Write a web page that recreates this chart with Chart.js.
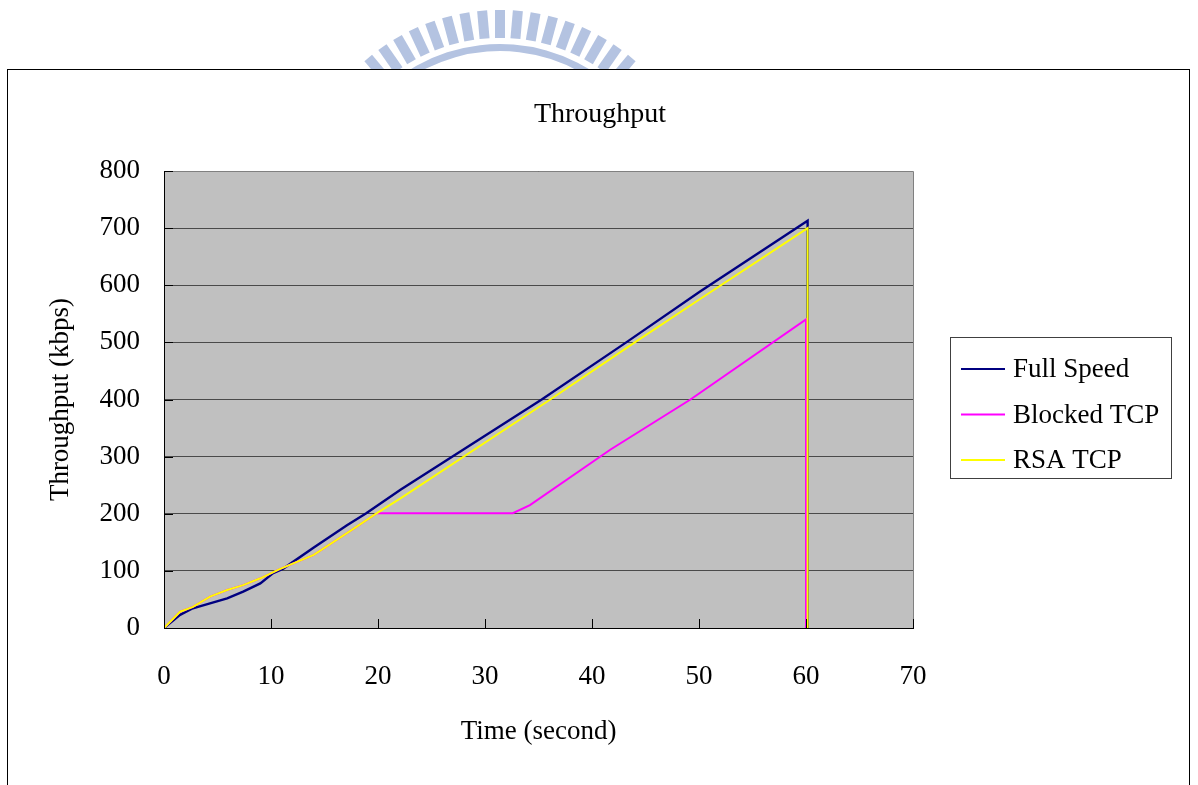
<!DOCTYPE html>
<html><head><meta charset="utf-8">
<script src="https://cdn.jsdelivr.net/npm/chart.js@4.4.1/dist/chart.umd.min.js"></script>
<style>html,body{margin:0;padding:0;background:#fff;overflow:hidden}#wrap{width:1198px;height:785px;position:relative}</style>
</head><body><div id="wrap"><canvas id="c" width="1198" height="785"></canvas></div>
<script>
const chartTitle = 'Throughput';
const xTitle = 'Time (second)';
const yTitle = 'Throughput (kbps)';
const seriesNames = ['Full Speed', 'Blocked TCP', 'RSA TCP'];
const seriesColors = ['#000080', '#ff00ff', '#ffff00'];
const xTicks = [0, 10, 20, 30, 40, 50, 60, 70];
const yTicks = [0, 100, 200, 300, 400, 500, 600, 700, 800];

const fullSpeedTime  = [0, 1.5, 2.7, 4.3, 5.9, 7.4, 9.0, 10.2, 11.15, 14.0, 17.1, 18.9, 22.1, 35.3, 43.2, 50.1, 60.15, 60.15];
const fullSpeedValue = [0, 23, 34.5, 43, 52, 63.6, 78, 96, 104, 141, 180, 201, 242, 400, 500, 589, 713, 0];

const blockedTime  = [0, 1.5, 2.7, 4.3, 5.9, 7.4, 9.0, 10.8, 14.0, 17.1, 19.9, 32.6, 34.2, 41.7, 49.2, 60.0, 60.0];
const blockedValue = [0, 28.5, 37, 55, 66.5, 75, 87, 103, 128, 166, 201, 201, 215, 312, 400, 540, 0];

const rsaTime  = [0, 1.5, 2.7, 4.3, 5.9, 7.4, 9.0, 10.8, 14.0, 17.1, 19.9, 22.1, 36.1, 44.0, 50.1, 60.15, 60.15];
const rsaValue = [0, 28.5, 37, 55, 66.5, 75, 87, 103, 128, 166, 201, 227, 400, 500, 576, 700, 0];

const FONT = "'Liberation Serif', 'DejaVu Serif', serif";
const FS = 27;

function pts(t, v) { return t.map((x, i) => ({ x: x, y: v[i] })); }

const decor = {
  id: 'decor',
  beforeDraw(chart) {
    const ctx = chart.ctx;
    ctx.save();
    ctx.fillStyle = '#fff';
    ctx.fillRect(0, 0, chart.width, chart.height);
    // watermark
    ctx.fillStyle = '#b4c3e1';
    const cx = 500, cy = 215;
    for (let i = -8; i <= 8; i++) {
      const a = i * 5.0 * Math.PI / 180;
      ctx.save(); ctx.translate(cx, cy); ctx.rotate(a);
      ctx.fillRect(-5, -205, 10, 28);
      ctx.restore();
    }
    ctx.beginPath();
    ctx.arc(cx, cy, 171, Math.PI * 1.15, Math.PI * 1.85);
    ctx.arc(cx, cy, 164, Math.PI * 1.85, Math.PI * 1.15, true);
    ctx.closePath(); ctx.fill();
    // frame
    ctx.fillStyle = '#fff';
    ctx.fillRect(7, 69, 1183, 800);
    ctx.strokeStyle = '#000'; ctx.lineWidth = 1;
    ctx.strokeRect(7.5, 69.5, 1182, 800);
    // plot bg
    const a = chart.chartArea;
    ctx.fillStyle = '#c0c0c0';
    ctx.fillRect(a.left, a.top, a.right - a.left, a.bottom - a.top);
    // title
    ctx.fillStyle = '#000';
    ctx.font = '28px ' + FONT;
    ctx.textAlign = 'center'; ctx.textBaseline = 'middle';
    ctx.fillText(chartTitle, 600, 115);
    ctx.restore();
  },
  afterDraw(chart) {
    const ctx = chart.ctx, a = chart.chartArea;
    const xs = chart.scales.x, ys = chart.scales.y;
    ctx.save();
    ctx.strokeStyle = '#808080'; ctx.lineWidth = 1;
    ctx.beginPath();
    ctx.moveTo(a.left, a.top + 0.5); ctx.lineTo(a.right + 0.5, a.top + 0.5); ctx.lineTo(a.right + 0.5, a.bottom);
    ctx.stroke();
    ctx.strokeStyle = '#000';
    ctx.beginPath();
    xTicks.forEach(v => { const px = Math.round(xs.getPixelForValue(v)) + 0.5; ctx.moveTo(px, a.bottom); ctx.lineTo(px, a.bottom - 9); });
    yTicks.forEach(v => { const py = Math.round(ys.getPixelForValue(v)) + 0.5; ctx.moveTo(a.left, py); ctx.lineTo(a.left + 9, py); });
    ctx.stroke();
    // legend
    ctx.fillStyle = '#fff';
    ctx.fillRect(950, 337, 221, 141);
    ctx.strokeStyle = '#404040';
    ctx.strokeRect(950.5, 337.5, 221, 141);
    ctx.font = FS + 'px ' + FONT;
    ctx.textAlign = 'left'; ctx.textBaseline = 'middle';
    chart.data.datasets.forEach((ds, i) => {
      const y = 369 + i * 45.5;
      ctx.strokeStyle = ds.borderColor; ctx.lineWidth = 2;
      ctx.beginPath(); ctx.moveTo(961, y); ctx.lineTo(1005, y); ctx.stroke();
      ctx.fillStyle = '#000';
      ctx.fillText(ds.label, 1013, y + 1);
    });
    ctx.restore();
  }
};

new Chart(document.getElementById('c'), {
  type: 'line',
  data: {
    datasets: [
      { label: seriesNames[0], data: pts(fullSpeedTime, fullSpeedValue), borderColor: seriesColors[0], borderWidth: 2.4, order: 3 },
      { label: seriesNames[1], data: pts(blockedTime, blockedValue), borderColor: seriesColors[1], order: 2 },
      { label: seriesNames[2], data: pts(rsaTime, rsaValue), borderColor: seriesColors[2], order: 1 }
    ]
  },
  options: {
    responsive: false,
    devicePixelRatio: 1,
    animation: false,
    elements: { line: { borderWidth: 2, tension: 0, fill: false }, point: { radius: 0 } },
    layout: { padding: { top: 171, right: 285, bottom: 0, left: 0 } },
    plugins: { legend: { display: false }, tooltip: { enabled: false }, title: { display: false } },
    scales: {
      x: {
        type: 'linear', min: 0, max: 70,
        afterFit(s) { s.height = 157; },
        afterBuildTicks(s) { s.ticks = xTicks.map(v => ({ value: v })); },
        ticks: { color: '#000', font: { family: FONT, size: FS }, padding: 33, maxRotation: 0 },
        grid: { display: false, drawTicks: false },
        border: { display: true, color: '#000', width: 1 },
        title: { display: true, text: xTitle, color: '#000', font: { family: FONT, size: FS }, padding: 37 }
      },
      y: {
        type: 'linear', min: 0, max: 800,
        afterFit(s) { s.width = 164; },
        afterBuildTicks(s) { s.ticks = yTicks.map(v => ({ value: v })); },
        ticks: { color: '#000', font: { family: FONT, size: FS }, padding: 24 },
        grid: { display: true, color: '#4a4a4a', lineWidth: 1, drawTicks: false },
        border: { display: true, color: '#000', width: 1 },
        title: { display: true, text: yTitle, color: '#000', font: { family: FONT, size: FS }, padding: 45 }
      }
    }
  },
  plugins: [decor]
});
</script></body></html>
